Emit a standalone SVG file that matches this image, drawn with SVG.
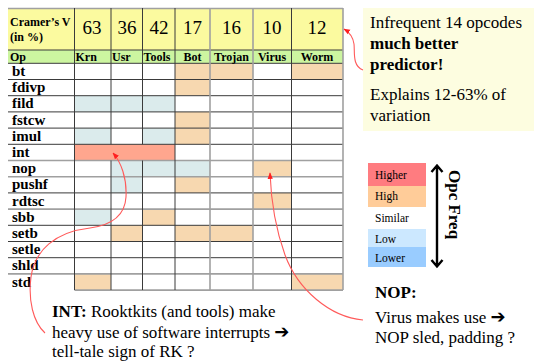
<svg xmlns="http://www.w3.org/2000/svg" width="534" height="362" viewBox="0 0 534 362">
  <style>
    .serif { font-family: "Liberation Serif", "DejaVu Serif", serif; fill: #000; }
    .op { font-size: 15px; font-weight: bold; }
    .colh { font-size: 12px; font-weight: bold; }
    .num { font-size: 19px; text-anchor: middle; }
    .big { font-size: 17px; }
    .leg { font-size: 11.5px; }
    .peach { fill: #f7d8b0; }
    .blue { fill: #dbebec; }
    .dk { stroke: #3a3a3a; stroke-width: 1; fill: none; }
    .gr { stroke: #a0a0a0; stroke-width: 1.6; fill: none; }
    .red { stroke: #ff5a5a; stroke-width: 1.1; fill: none; }
    .arrow { font-family: "DejaVu Sans", sans-serif; font-size: 18px; font-weight: bold; }
  </style>
  <defs>
    <marker id="redhead" viewBox="0 0 10 10" refX="9" refY="5" markerWidth="6" markerHeight="6" orient="auto">
      <path d="M0,1 L10,5 L0,9 Z" fill="#ff2020"/>
    </marker>
  </defs>

  <!-- opcode table -->
  <g id="table">
    <rect x="8" y="8" width="335" height="42" fill="#fbfa9f"/>
    <rect x="8" y="50" width="335" height="13.3" fill="#ccf5a0"/>
    <rect x="8" y="63.3" width="335" height="226.8" fill="#ffffff"/>

    <!-- highlighted cells (rows start at 63.3, step 16.2) -->
    <g id="cells">
      <!-- bt -->
      <rect class="peach" x="175" y="63.3" width="35" height="16.2"/>
      <rect class="peach" x="210" y="63.3" width="43" height="16.2"/>
      <rect class="peach" x="291.5" y="63.3" width="51.5" height="16.2"/>
      <!-- fdivp -->
      <rect class="peach" x="175" y="79.5" width="35" height="16.2"/>
      <!-- fild -->
      <rect class="blue" x="74.5" y="95.7" width="100.5" height="16.2"/>
      <!-- fstcw -->
      <rect class="peach" x="175" y="111.9" width="35" height="16.2"/>
      <!-- imul -->
      <rect class="blue" x="74.5" y="128.1" width="36.5" height="16.2"/>
      <rect class="blue" x="142.5" y="128.1" width="32.5" height="16.2"/>
      <rect class="peach" x="175" y="128.1" width="35" height="16.2"/>
      <!-- int -->
      <rect x="74.5" y="144.3" width="100.5" height="16.2" fill="#ffa68e"/>
      <!-- nop -->
      <rect class="blue" x="111" y="160.5" width="99" height="16.2"/>
      <rect class="peach" x="253" y="160.5" width="38.5" height="16.2"/>
      <!-- pushf -->
      <rect class="blue" x="111" y="176.7" width="31.5" height="16.2"/>
      <rect class="peach" x="175" y="176.7" width="35" height="16.2"/>
      <!-- rdtsc -->
      <rect class="peach" x="253" y="192.9" width="38.5" height="16.2"/>
      <!-- sbb -->
      <rect class="blue" x="74.5" y="209.1" width="36.5" height="16.2"/>
      <rect class="peach" x="142.5" y="209.1" width="32.5" height="16.2"/>
      <!-- setb -->
      <rect class="peach" x="111" y="225.3" width="31.5" height="16.2"/>
      <rect class="peach" x="175" y="225.3" width="78" height="16.2"/>
      <!-- std -->
      <rect class="peach" x="74.5" y="273.9" width="36.5" height="16.2"/>
      <rect class="peach" x="291.5" y="273.9" width="51.5" height="16.2"/>
    </g>

    <!-- grid -->
    <g id="grid">
      <path class="gr" d="M8,8.5 H343"/>
      <path class="dk" d="M8,50 H343 M8,63.3 H343 M8,79.5 H343 M8,95.7 H343 M8,111.9 H343 M8,128.1 H343 M8,144.3 H343 M8,192.9 H343 M8,225.3 H343 M8,241.5 H343 M8,257.7 H343"/>
      <path class="gr" d="M8,160.5 H343 M8,176.7 H343 M8,209.1 H343 M8,273.9 H343 M74.5,290.1 H343"/>
      <path class="dk" d="M74.5,8 V290 M175,8 V290 M291.5,8 V290 M111,8 V144.3 M111,160.5 V290 M142.5,8 V144.3 M142.5,160.5 V290"/>
      <path class="gr" d="M210,8 V290 M253,8 V290 M343,8 V290"/>
    </g>

    <!-- header texts -->
    <text class="serif colh" x="10" y="26" font-size="11">Cramer’s V</text>
    <text class="serif colh" x="10" y="41" font-size="11">(in %)</text>
    <text class="serif num" x="92" y="34">63</text>
    <text class="serif num" x="127" y="34">36</text>
    <text class="serif num" x="159" y="34">42</text>
    <text class="serif num" x="192.5" y="34">17</text>
    <text class="serif num" x="231.5" y="34">16</text>
    <text class="serif num" x="272" y="34">10</text>
    <text class="serif num" x="317" y="34">12</text>

    <text class="serif colh" x="10" y="61">Op</text>
    <text class="serif colh" x="75.5" y="61">Krn</text>
    <text class="serif colh" x="112" y="61">Usr</text>
    <text class="serif colh" x="143.5" y="61">Tools</text>
    <text class="serif colh" x="192.5" y="61" text-anchor="middle">Bot</text>
    <text class="serif colh" x="231.5" y="61" text-anchor="middle">Trojan</text>
    <text class="serif colh" x="272" y="61" text-anchor="middle">Virus</text>
    <text class="serif colh" x="317" y="61" text-anchor="middle">Worm</text>

    <!-- opcode names -->
    <text class="serif op" x="12" y="76">bt</text>
    <text class="serif op" x="12" y="92.2">fdivp</text>
    <text class="serif op" x="12" y="108.4">fild</text>
    <text class="serif op" x="12" y="124.6">fstcw</text>
    <text class="serif op" x="12" y="140.8">imul</text>
    <text class="serif op" x="12" y="157">int</text>
    <text class="serif op" x="12" y="173.2">nop</text>
    <text class="serif op" x="12" y="189.4">pushf</text>
    <text class="serif op" x="12" y="205.6">rdtsc</text>
    <text class="serif op" x="12" y="221.8">sbb</text>
    <text class="serif op" x="12" y="238">setb</text>
    <text class="serif op" x="12" y="254.2">setle</text>
    <text class="serif op" x="12" y="270.4">shld</text>
    <text class="serif op" x="12" y="286.6">std</text>
  </g>

  <!-- summary note -->
  <g id="note">
    <rect x="363" y="8" width="171" height="123" fill="#fdfde0"/>
    <text class="serif big" x="370" y="28">Infrequent 14 opcodes</text>
    <text class="serif big" x="370" y="49" font-weight="bold">much better</text>
    <text class="serif big" x="370" y="70" font-weight="bold">predictor!</text>
    <text class="serif big" x="370" y="100">Explains 12-63% of</text>
    <text class="serif big" x="370" y="121">variation</text>
  </g>

  <!-- legend -->
  <g id="legend">
    <rect x="368" y="163" width="58" height="23" fill="#ff7c80"/>
    <rect x="368" y="186" width="58" height="21" fill="#ffcc99"/>
    <rect x="368" y="229" width="58" height="18" fill="#cce8ff"/>
    <rect x="368" y="247" width="58" height="20" fill="#99ccff"/>
    <text class="serif leg" x="375" y="179">Higher</text>
    <text class="serif leg" x="375" y="200">High</text>
    <text class="serif leg" x="375" y="222">Similar</text>
    <text class="serif leg" x="375" y="243">Low</text>
    <text class="serif leg" x="375" y="262">Lower</text>
    <path d="M437,166 V266 M431.5,172 L437,165.5 L442.5,172 M431.5,260 L437,266.5 L442.5,260" stroke="#000" stroke-width="2.4" fill="none"/>
    <text class="serif" transform="translate(449,170) rotate(90)" font-size="17" font-weight="bold">Opc Freq</text>
  </g>

  <!-- callouts -->
  <g id="int-note">
    <text class="serif big" x="52" y="317"><tspan font-weight="bold">INT:</tspan> Rooktkits (and tools) make</text>
    <text class="serif big" x="52" y="338">heavy use of software interrupts <tspan class="arrow">➔</tspan></text>
    <text class="serif big" x="52" y="357">tell-tale sign of RK ?</text>
  </g>
  <g id="nop-note">
    <text class="serif big" x="375" y="298" font-weight="bold">NOP:</text>
    <text class="serif big" x="375" y="323">Virus makes use <tspan class="arrow">➔</tspan></text>
    <text class="serif big" x="375" y="343">NOP sled, padding ?</text>
  </g>

  <!-- connectors -->
  <g id="connectors">
    <path class="red" marker-end="url(#redhead)" d="M363,70 C352,66 355,52 354,44 C353,37 349,32 344,29"/>
    <path class="red" marker-end="url(#redhead)" d="M45,333 C33,322 28,300 31,277 C35,250 55,232 90,228 C112,225 125,215 126,197 C127,178 121,162 113,153"/>
    <path class="red" marker-end="url(#redhead)" d="M363,320 C330,317 298,290 285,255 C276,230 271,200 270,173"/>
  </g>
</svg>
